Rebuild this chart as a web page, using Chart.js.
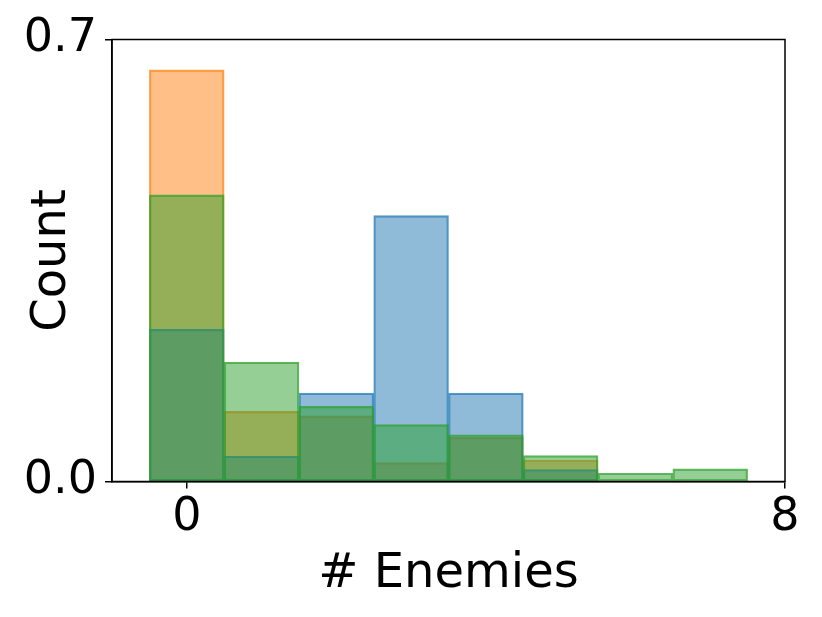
<!DOCTYPE html>
<html>
<head>
<meta charset="utf-8">
<script src="https://cdn.jsdelivr.net/npm/chart.js@4/dist/chart.umd.min.js"></script>
<style>
  html, body { margin: 0; padding: 0; background: #fff; }
  #wrap { width: 822px; height: 617px; }
</style>
</head>
<body>
<div id="wrap"><canvas id="c" width="822" height="617"></canvas></div>
<script>
// Histogram bins (number of enemies) and normalized frequencies per series
const bins = [0, 1, 2, 3, 4, 5, 6, 7];
const blueValues   = [0.241, 0.040, 0.140, 0.421, 0.140, 0.019, 0, 0];
const orangeValues = [0.652, 0.111, 0.104, 0.030, 0.070, 0.034, 0, 0];
const greenValues  = [0.454, 0.189, 0.119, 0.090, 0.074, 0.041, 0.013, 0.020];
const xTicks = [0, 8];
const yTicks = [0, 0.7];
const xLabel = '# Enemies';
const yLabel = 'Count';

const toPoints = vals => bins.map((b, i) => ({ x: b, y: vals[i] > 0 ? vals[i] : null }));

const FONT = 'DejaVu Sans';

const frame = {
  id: 'frame',
  afterDatasetsDraw(chart) {
    const { ctx, chartArea: a } = chart;
    ctx.save();
    ctx.strokeStyle = '#000';
    ctx.lineWidth = 1.5;
    ctx.strokeRect(a.left, a.top, a.right - a.left, a.bottom - a.top);
    ctx.restore();
  }
};

const mk = (label, vals, fill, edge, order) => ({
  label, data: toPoints(vals), backgroundColor: fill, borderColor: edge,
  borderWidth: 1.5, borderSkipped: false, order,
  barPercentage: 1.0, categoryPercentage: 1.0
});

new Chart(document.getElementById('c'), {
  type: 'bar',
  data: {
    datasets: [
      mk('blue', blueValues, 'rgba(31,119,180,0.5)', 'rgba(31,119,180,0.75)', 1),
      mk('orange', orangeValues, 'rgba(255,127,14,0.5)', 'rgba(255,127,14,0.75)', 2),
      mk('green', greenValues, 'rgba(44,160,44,0.5)', 'rgba(44,160,44,0.75)', 0)
    ]
  },
  options: {
    responsive: false,
    animation: false,
    devicePixelRatio: 1,
    grouped: false,
    layout: { padding: { left: 0, top: 39.5, right: 37, bottom: 0 } },
    plugins: { legend: { display: false }, tooltip: { enabled: false } },
    scales: {
      x: {
        type: 'linear', min: -1, max: 8, offset: false,
        afterBuildTicks: s => { s.ticks = xTicks.map(v => ({ value: v })); },
        afterFit: s => { s.height = 617 - 481.5; },
        ticks: { color: '#000', font: { family: FONT, size: 46 }, padding: 2, maxRotation: 0,
                 autoSkip: false, callback: v => String(v) },
        grid: { offset: false, drawOnChartArea: false, drawTicks: true, tickLength: 7, color: '#000', lineWidth: 1.5 },
        border: { display: true, color: '#000', width: 1.5 },
        title: { display: true, text: xLabel, color: '#000', font: { family: FONT, size: 48 }, padding: { top: 0, bottom: 14 } }
      },
      y: {
        type: 'linear', min: 0, max: 0.7,
        afterBuildTicks: s => { s.ticks = yTicks.map(v => ({ value: v })); },
        afterFit: s => { s.width = 112; },
        ticks: { color: '#000', font: { family: FONT, size: 46 }, padding: 8,
                 autoSkip: false, callback: v => Number(v).toFixed(1) },
        grid: { offset: false, drawOnChartArea: false, drawTicks: true, tickLength: 7, color: '#000', lineWidth: 1.5 },
        border: { display: true, color: '#000', width: 1.5 },
        title: { display: true, text: yLabel, color: '#000', font: { family: FONT, size: 48 }, padding: { top: 24, bottom: 0 } }
      }
    }
  },
  plugins: [frame]
});
</script>
</body>
</html>
